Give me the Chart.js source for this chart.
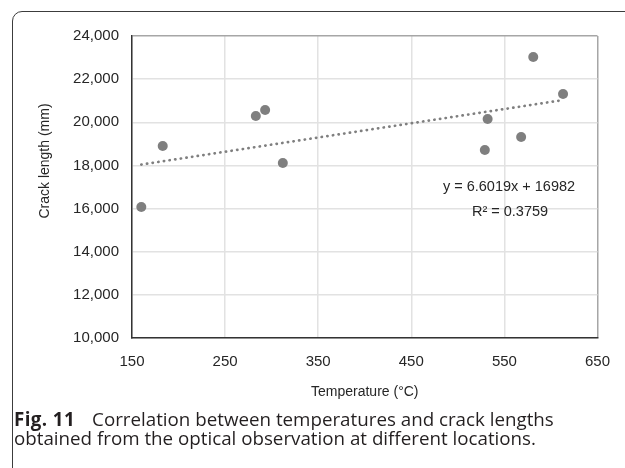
<!DOCTYPE html>
<html>
<head>
<meta charset="utf-8">
<script src="https://cdn.jsdelivr.net/npm/chart.js@4.4.1/dist/chart.umd.min.js"></script>
<style>
  html, body { margin: 0; padding: 0; background: #ffffff; }
  body { width: 625px; height: 468px; position: relative; overflow: hidden; }
  #frame {
    position: absolute; left: 12px; top: 11px; width: 700px; height: 600px;
    border: 1px solid #3c3c3c; border-radius: 10px; box-sizing: border-box;
  }
  #chart { position: absolute; left: 0; top: 0; }
  #caption {
    position: absolute; left: 14px; top: 410px; width: 610px;
    font-family: "Open Sans", "Noto Sans", sans-serif; font-size: 18.75px;
    line-height: 18.5px; color: #231f20; white-space: nowrap;
  }
  #caption b { font-weight: 700; margin-right: 17px; letter-spacing: 0.4px; }
</style>
</head>
<body>
<div id="frame"></div>
<canvas id="chart" width="625" height="410"></canvas>
<div id="caption"><b>Fig. 11</b>Correlation between temperatures and crack lengths<br>obtained from the optical observation at different locations.</div>
<script>
// pontos
var temperatures = [160, 183, 283, 293, 312, 529, 532, 568, 581, 613];
var crackLengths = [16070, 18900, 20290, 20570, 18110, 18715, 20150, 19318, 23030, 21310];

// linha de tendencia (extremos lidos)
var trendX = [160, 613];
var trendY = [18040, 21030];

var xTicks = [150, 250, 350, 450, 550, 650];
var yTicks = [10000, 12000, 14000, 16000, 18000, 20000, 22000, 24000];

var xTitle = "Temperature (\u00b0C)";
var yTitle = "Crack length (mm)";
var eqText = "y = 6.6019x + 16982";
var r2Text = "R\u00b2 = 0.3759";

var FONT = "'Liberation Sans', Arial, sans-serif";
var TXT  = "#262626";

function toPts(xs, ys) {
  return xs.map(function(x, i) { return { x: x, y: ys[i] }; });
}

// titulos dos eixos + equacao
var textPlugin = {
  id: "textos",
  afterDraw: function(chart) {
    var ctx = chart.ctx;
    var a = chart.chartArea;
    ctx.save();
    ctx.fillStyle = TXT;
    ctx.textAlign = "center";
    ctx.textBaseline = "middle";
    ctx.font = "14px " + FONT;
    ctx.fillText(xTitle, (a.left + a.right) / 2, 392);
    ctx.save();
    ctx.translate(45, 161);
    ctx.rotate(-Math.PI / 2);
    ctx.fillText(yTitle, 0, 0);
    ctx.restore();
    ctx.font = "14.5px " + FONT;
    ctx.fillText(eqText, 509, 187);
    ctx.fillText(r2Text, 510, 212);
    ctx.restore();
  }
};

new Chart(document.getElementById("chart"), {
  type: "scatter",
  data: {
    datasets: [
      {
        label: "Trend",
        type: "line",
        data: toPts(trendX, trendY),
        borderColor: "#7f7f7f",
        borderWidth: 2.7,
        borderDash: [0.3, 5.4],
        borderCapStyle: "round",
        pointRadius: 0,
        fill: false,
        order: 2
      },
      {
        label: "Crack length",
        data: toPts(temperatures, crackLengths),
        backgroundColor: "#7f7f7f",
        borderWidth: 0,
        pointRadius: 5,
        order: 1
      }
    ]
  },
  options: {
    responsive: false,
    animation: false,
    devicePixelRatio: 1,
    layout: { padding: { left: 0, top: 36, right: 27, bottom: 0 } },
    plugins: { legend: { display: false }, tooltip: { enabled: false } },
    scales: {
      x: {
        type: "linear", min: 150, max: 650,
        afterBuildTicks: function(s) { s.ticks = xTicks.map(function(v) { return { value: v }; }); },
        afterFit: function(s) { s.height = 72; },
        grid: {
          drawTicks: false, lineWidth: 1.5,
          color: function(c) { return c.tick && c.tick.value === 650 ? "#a6a6a6" : "#e2e2e2"; }
        },
        border: { color: "#333333", width: 1.5 },
        ticks: { padding: 15, color: TXT, font: { family: FONT, size: 15 } }
      },
      y: {
        type: "linear", min: 10000, max: 24000,
        afterBuildTicks: function(s) { s.ticks = yTicks.map(function(v) { return { value: v }; }); },
        afterFit: function(s) { s.width = 132; },
        grid: {
          drawTicks: false, lineWidth: 1.5,
          color: function(c) { return c.tick && c.tick.value === 24000 ? "#a6a6a6" : "#e2e2e2"; }
        },
        border: { color: "#333333", width: 1.5 },
        ticks: {
          padding: 13, color: TXT, font: { family: FONT, size: 15 },
          callback: function(v) { return v.toLocaleString("en-US"); }
        }
      }
    }
  },
  plugins: [textPlugin]
});
</script>
</body>
</html>
